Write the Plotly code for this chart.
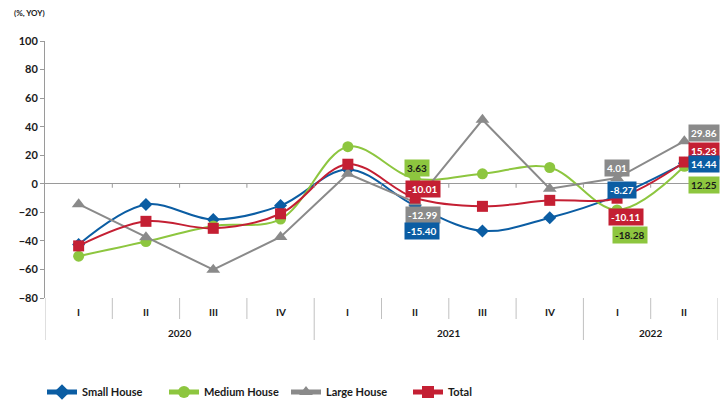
import plotly.graph_objects as go

quarters = ["I", "II", "III", "IV", "I", "II", "III", "IV", "I", "II"]
years = ["2020", "2021", "2022"]
year_spans = [(1, 4), (5, 8), (9, 10)]

small = [-42.5, -14.5, -25.0, -15.3, 10.0, -15.40, -33.0, -23.8, -8.27, 14.44]
medium = [-50.7, -40.5, -29.5, -24.7, 26.0, 3.63, 7.0, 11.4, -18.28, 12.25]
large = [-14.3, -37.5, -60.2, -37.2, 7.0, -12.99, 44.8, -3.5, 4.01, 29.86]
total = [-43.5, -26.3, -31.2, -21.0, 13.7, -10.01, -15.8, -11.6, -10.11, 15.23]

series = [
    ("Small House", small, "#0B5DA3", "diamond", 10, "spline"),
    ("Medium House", medium, "#8DC63F", "circle", 11, "spline"),
    ("Large House", large, "#8A8A8A", "triangle-up", 12, "linear"),
    ("Total", total, "#C41F33", "square", 11, "spline"),
]

# labelled points: (series index, point index, xshift, yshift)
labels = [
    (1, 5, 2, 11), (3, 5, 8, 9), (2, 5, 8, -13), (0, 5, 7, -25),
    (2, 8, 0, 10), (0, 8, 5, 6), (3, 8, 9, -19), (1, 8, 13, -25),
]
# labels at the right edge: (series index, point index, yshift)
edge_labels = [(2, 9, 8), (3, 9, 11), (0, 9, -1), (1, 9, -19)]

x = list(range(1, len(quarters) + 1))
FONT = "Lato"
DARK = "#1A1A1A"
AXIS = "#9A9A9A"
SEP = "#C0C0C0"

fig = go.Figure()
for name, vals, color, sym, size, shape in series:
    fig.add_trace(go.Scatter(
        x=x, y=vals, name=name, mode="lines+markers",
        line=dict(color=color, width=2, shape=shape, smoothing=1.0),
        marker=dict(symbol=sym, size=size, color=color),
    ))

ann = []
for si, pi, dx, dy in labels:
    name, vals, color, sym, size, shape = series[si]
    ann.append(dict(
        x=x[pi], y=vals[pi], xref="x", yref="y", text=f"{vals[pi]:.2f}",
        showarrow=False, xshift=dx, yshift=dy, xanchor="center", yanchor="middle",
        bgcolor=color, borderpad=2,
        font=dict(family=FONT, size=10, weight="bold",
                  color=DARK if si == 1 else "white"),
    ))
for si, pi, dy in edge_labels:
    name, vals, color, sym, size, shape = series[si]
    ann.append(dict(
        x=1.0 + 2 / 673, y=vals[pi], xref="paper", yref="y", text=f"{vals[pi]:.2f}",
        showarrow=False, yshift=dy, xanchor="right", yanchor="middle",
        bgcolor=color, borderpad=2,
        font=dict(family=FONT, size=10, weight="bold",
                  color=DARK if si == 1 else "white"),
    ))

PH = 257.0
def py(p):
    return (298 - p) / PH

for i, q in enumerate(quarters):
    ann.append(dict(x=x[i], y=py(312), xref="x", yref="paper", text=q, showarrow=False,
                    yanchor="middle", font=dict(family=FONT, size=10, weight="bold", color=DARK)))
for yr, (a, b) in zip(years, year_spans):
    ann.append(dict(x=(a + b) / 2, y=py(333), xref="x", yref="paper", text=yr, showarrow=False,
                    yanchor="middle", font=dict(family=FONT, size=10, weight="bold", color=DARK)))

ann.append(dict(x=-33 / 673, y=py(13), xref="paper", yref="paper", text="(%, YOY)", showarrow=False,
                xanchor="left", yanchor="middle",
                font=dict(family=FONT, size=8, weight="bold", color=DARK)))

shapes = []
group_bounds = [s[0] - 0.5 for s in year_spans] + [year_spans[-1][1] + 0.5]
for i in range(1, len(quarters)):
    b = i + 0.5
    shapes.append(dict(type="line", xref="x", yref="y", x0=b, x1=b, y0=0, y1=-2.8,
                       line=dict(color=AXIS, width=1)))
    if b not in group_bounds:
        shapes.append(dict(type="line", xref="x", yref="paper", x0=b, x1=b, y0=py(298), y1=py(319),
                           line=dict(color=SEP, width=1)))
for b in group_bounds:
    shapes.append(dict(type="line", xref="x", yref="paper", x0=b, x1=b, y0=py(298), y1=py(340),
                       line=dict(color=SEP, width=1)))

fig.update_layout(
    width=721, height=402,
    margin=dict(l=45, r=3, t=41, b=104, autoexpand=False),
    paper_bgcolor="white", plot_bgcolor="white",
    xaxis=dict(range=[0.5, 10.5], showticklabels=False, showgrid=False, zeroline=False,
               showline=False, ticks=""),
    yaxis=dict(range=[-80, 100], dtick=20, showgrid=False, showline=True, linecolor=AXIS,
               linewidth=1, ticks="outside", ticklen=4, tickcolor=AXIS,
               zeroline=True, zerolinecolor=AXIS, zerolinewidth=1,
               tickfont=dict(family=FONT, size=11, weight="bold", color=DARK)),
    showlegend=True,
    legend=dict(orientation="h", x=42 / 721, xref="container", y=1 - 392 / 402, yref="container",
                xanchor="left", yanchor="middle",
                entrywidth=77, entrywidthmode="pixels", itemsizing="constant",
                font=dict(family=FONT, size=11, weight="bold", color=DARK),
                bgcolor="rgba(0,0,0,0)"),
    annotations=ann,
    shapes=shapes,
)

fig.write_html("out.html")
